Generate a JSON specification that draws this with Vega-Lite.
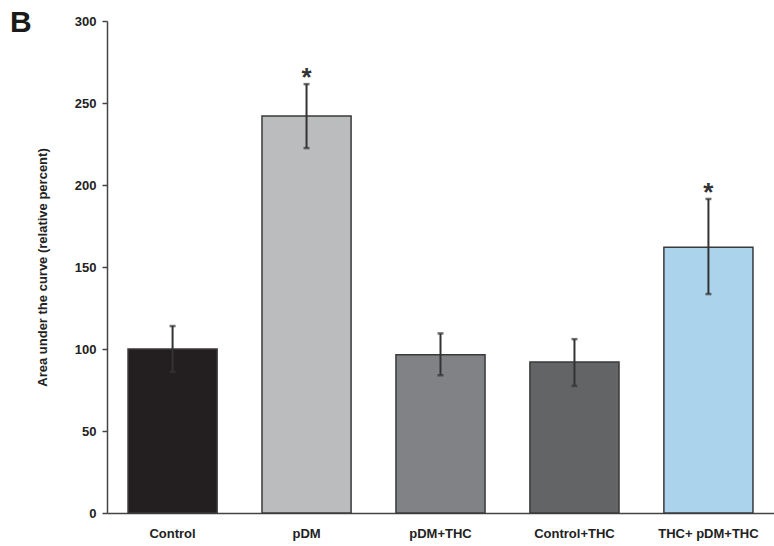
{
  "$schema": "https://vega.github.io/schema/vega-lite/v6.json",
  "width": 667,
  "height": 492,
  "autosize": {"type": "none"},
  "padding": {"left": 107, "top": 21, "right": 0, "bottom": 33},
  "background": "white",
  "title": {"text": "B", "anchor": "start", "fontSize": 30, "fontWeight": "bold", "font": "Liberation Sans", "color": "#1a1a1a", "dx": -97, "dy": 47, "offset": 0, "baseline": "alphabetic", "frame": "group"},
  "config": {"view": {"stroke": null}, "font": "Liberation Sans"},
  "data": {"values": [
    {"group": "Control", "value": 100, "lo": 86, "hi": 114, "star": ""},
    {"group": "pDM", "value": 242, "lo": 222.5, "hi": 261.5, "star": "*"},
    {"group": "pDM+THC", "value": 96.5, "lo": 84, "hi": 109.5, "star": ""},
    {"group": "Control+THC", "value": 92, "lo": 77.5, "hi": 106, "star": ""},
    {"group": "THC+ pDM+THC", "value": 162, "lo": 133.5, "hi": 191.5, "star": "*"}
  ]},
  "encoding": {
    "x": {"field": "group", "type": "nominal", "sort": null,
      "scale": {"paddingInner": 0.335, "paddingOuter": 0.157},
      "axis": {"title": null, "labelAngle": 0, "ticks": false, "labelFontWeight": "bold", "labelFontSize": 13, "labelColor": "#222", "domainColor": "#444", "domainWidth": 1.5, "labelPadding": 14}}
  },
  "layer": [
    {"mark": {"type": "bar", "stroke": "#3a3a3a", "strokeWidth": 1.5},
     "encoding": {
       "y": {"field": "value", "type": "quantitative",
         "scale": {"domain": [0, 300], "nice": false},
         "axis": {"title": "Area under the curve (relative percent)", "titleFontWeight": "bold", "titleFontSize": 13, "titleColor": "#222", "titlePadding": 25, "values": [0, 50, 100, 150, 200, 250, 300], "grid": false, "labelFontWeight": "bold", "labelFontSize": 13, "labelColor": "#222", "tickSize": 5, "tickColor": "#444", "tickWidth": 1.5, "domainColor": "#444", "domainWidth": 1.5, "labelPadding": 6}},
       "color": {"field": "group", "type": "nominal", "sort": null, "legend": null,
         "scale": {"domain": ["Control", "pDM", "pDM+THC", "Control+THC", "THC+ pDM+THC"], "range": ["#231f20", "#bbbcbe", "#808285", "#636466", "#abd3ec"]}}
     }},
    {"mark": {"type": "rule", "color": "#333", "strokeWidth": 2},
     "encoding": {"y": {"field": "lo", "type": "quantitative"}, "y2": {"field": "hi"}}},
    {"mark": {"type": "tick", "color": "#333", "thickness": 2.5, "size": 6, "orient": "horizontal"},
     "encoding": {"y": {"field": "hi", "type": "quantitative"}}},
    {"mark": {"type": "tick", "color": "#333", "thickness": 2.5, "size": 6, "orient": "horizontal"},
     "encoding": {"y": {"field": "lo", "type": "quantitative"}}},
    {"mark": {"type": "text", "fontSize": 26, "fontWeight": "bold", "color": "#333", "baseline": "alphabetic", "dy": 2},
     "encoding": {"y": {"field": "hi", "type": "quantitative"}, "text": {"field": "star"}}}
  ]
}
